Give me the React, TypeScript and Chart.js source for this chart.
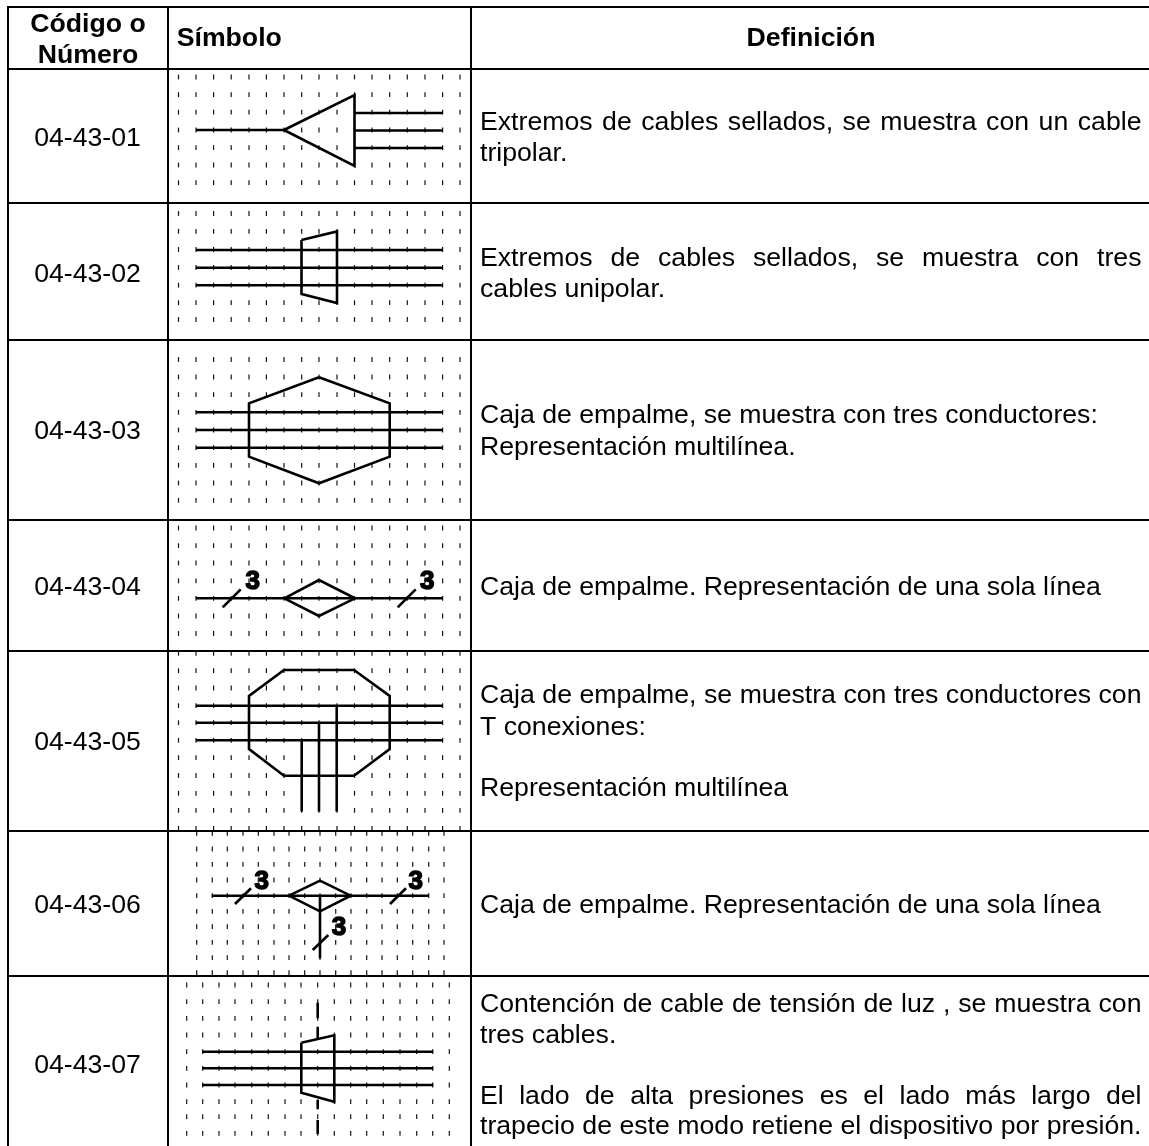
import React, { useEffect, useRef } from "react";
import { Chart, registerables } from "chart.js";

Chart.register(...registerables);

const WIDTH = 1149;
const HEIGHT = 1146;
const FONT = '"Liberation Sans", Arial, sans-serif';

// Table rules
const columnRules: number[] = [8, 168, 471];
const rowRules: number[] = [7, 69, 203, 340, 520, 651, 831, 976];
const ruleBottom = 1146;

// Text
const headerTexts: [string, number, number, string][] = [
  ["Código o", 88, 31.5, "center"],
  ["Número", 88, 62.5, "center"],
  ["Símbolo", 176.7, 46, "left"],
  ["Definición", 811, 46, "center"],
];
const codes: string[] = ["04-43-01", "04-43-02", "04-43-03", "04-43-04", "04-43-05", "04-43-06", "04-43-07"];
const codeBaselines: number[] = [146, 281.7, 439, 595, 750, 912.7, 1072.7];
const definitionLines: [string, number, boolean][] = [
  ["Extremos de cables sellados, se muestra con un cable", 130, true],
  ["tripolar.", 160.7, false],
  ["Extremos de cables sellados, se muestra con tres", 265.7, true],
  ["cables unipolar.", 296.7, false],
  ["Caja de empalme, se muestra con tres conductores:", 423, false],
  ["Representación multilínea.", 454.7, false],
  ["Caja de empalme. Representación de una sola línea", 595, false],
  ["Caja de empalme, se muestra con tres conductores con", 703.3, true],
  ["T conexiones:", 735, false],
  ["Representación multilínea", 796, false],
  ["Caja de empalme. Representación de una sola línea", 912.7, false],
  ["Contención de cable de tensión de luz , se muestra con", 1011.5, true],
  ["tres cables.", 1043, false],
  ["El lado de alta presiones es el lado más largo del", 1103.5, true],
  ["trapecio de este modo retiene el dispositivo por presión.", 1134, true],
];
const threeLabels: [number, number][] = [
  [252.7, 581], [427.3, 581], [261.7, 881], [415.7, 881], [339, 927],
];

// Dot grids of the symbol cells
const gridXA: number[] = [178.5, 196, 213.6, 231.2, 249, 266.4, 284, 301.7, 319, 337, 354.5, 372, 389.7, 407.3, 425, 442.6, 460];
const gridXB: number[] = [196.7, 212.3, 227.3, 243, 258.3, 274, 289, 304.7, 320, 335.7, 351, 366.7, 382, 397.3, 412.7, 428.7, 444];
const gridXC: number[] = [186.7, 202.7, 219, 235, 251.7, 268.3, 285, 301, 317.7, 334.3, 350.7, 366.7, 383.3, 400, 416.7, 432.7, 449.3];
const gridY1: number[] = [77, 94.6, 112.2, 130, 147.6, 165, 182.7];
const gridY2: number[] = [213.5, 231.3, 249.5, 267.5, 285.2, 302.7, 319.5];
const gridY3: number[] = [359.5, 377, 394.6, 412.3, 430, 447.7, 465.3, 483, 500.3];
const gridY4: number[] = [528, 545.7, 563, 580.8, 598.3, 616, 633.5];
const gridY5: number[] = [653.3, 670.7, 688, 705.7, 722.7, 740.3, 757.7, 775.5, 793.3, 810.3, 828.3];
const gridY6: number[] = [833.3, 849, 864.3, 880, 895.7, 911.3, 926.7, 942.3, 957.7, 972.7];
const gridY7: number[] = [985, 1001.7, 1018.3, 1035, 1051.7, 1068.3, 1085, 1101.7, 1116.7, 1133.3];

type Poly = [number, number][];

// Symbols
const symbol1: Poly[] = [
  [[196, 130], [284, 130]],
  [[284, 130], [354.5, 95], [354.5, 166], [284, 130]],
  [[355, 113], [443, 113]],
  [[355, 130.5], [443, 130.5]],
  [[355, 148], [443, 148]],
];
const symbol2: Poly[] = [
  [[196, 250], [443, 250]],
  [[196, 267.7], [443, 267.7]],
  [[196, 285.3], [443, 285.3]],
  [[301.5, 240], [337, 231.5], [337, 303], [301.5, 294], [301.5, 240]],
];
const symbol3: Poly[] = [
  [[196, 412.3], [443, 412.3]],
  [[196, 430], [443, 430]],
  [[196, 447.7], [443, 447.7]],
  [[319, 377.3], [389.7, 403.3], [389.7, 456.7], [319, 483.3], [249, 456.7], [249, 403.3], [319, 377.3]],
];
const symbol4: Poly[] = [
  [[196, 598.3], [443, 598.3]],
  [[284.3, 598.3], [319, 580], [355, 598.3], [319, 616], [284.3, 598.3]],
  [[222.7, 607.3], [240.7, 589.3]],
  [[397.7, 607.3], [415.7, 589.3]],
];
const symbol5: Poly[] = [
  [[196, 705.7], [443, 705.7]],
  [[196, 722.7], [443, 722.7]],
  [[196, 740.3], [443, 740.3]],
  [[284, 670], [354, 670], [389.7, 696], [389.7, 749], [354, 775.7], [284, 775.7], [249, 749], [249, 696], [284, 670]],
  [[301.7, 740.3], [301.7, 811.5]],
  [[319, 722.7], [319, 811.5]],
  [[336.7, 705.7], [336.7, 811.5]],
];
const symbol6: Poly[] = [
  [[211.7, 895.7], [429, 895.7]],
  [[289, 895.7], [320, 880.7], [350.7, 895.7], [320, 911.3], [289, 895.7]],
  [[320, 895.7], [320, 958.3]],
  [[235, 904], [251, 888.3]],
  [[390, 904], [406, 888.3]],
  [[312.7, 950], [328.3, 935]],
];
const symbol7: Poly[] = [
  [[202.3, 1051.7], [433.3, 1051.7]],
  [[202.3, 1068.3], [433.3, 1068.3]],
  [[202.3, 1085], [433.3, 1085]],
  [[301.3, 1042.7], [334.3, 1035.3], [334.3, 1101.7], [301.3, 1092.7], [301.3, 1042.7]],
  [[317.7, 1002.7], [317.7, 1018.3]],
  [[317.7, 1026.7], [317.7, 1038]],
  [[317.7, 1100], [317.7, 1109.3]],
  [[317.7, 1120], [317.7, 1134]],
];

const dotGrids: [number[], number[]][] = [
  [gridXA, gridY1], [gridXA, gridY2], [gridXA, gridY3], [gridXA, gridY4], [gridXA, gridY5],
  [gridXB, gridY6], [gridXC, gridY7],
];

const textPlugin = {
  id: "tableText",
  afterDatasetsDraw(chart: any) {
    const { ctx, scales } = chart;
    const px = (v: number) => scales.x.getPixelForValue(v);
    const py = (v: number) => scales.y.getPixelForValue(v);
    ctx.save();
    ctx.fillStyle = "#000";
    ctx.strokeStyle = "#000";
    ctx.textBaseline = "alphabetic";
    ctx.font = `bold 26.67px ${FONT}`;
    headerTexts.forEach(([t, x, y, a]) => {
      ctx.textAlign = a;
      ctx.fillText(t, px(x), py(y));
    });
    ctx.font = `26.67px ${FONT}`;
    ctx.textAlign = "center";
    codes.forEach((t, i) => ctx.fillText(t, px(87.5), py(codeBaselines[i])));
    ctx.textAlign = "left";
    const left = 480;
    const right = 1141.5;
    definitionLines.forEach(([t, y, justify]) => {
      const spaces = t.split(" ").length - 1;
      ctx.wordSpacing = "0px";
      const natural = ctx.measureText(t).width;
      ctx.wordSpacing = justify ? `${(right - left - natural) / spaces}px` : "0px";
      ctx.fillText(t, px(left), py(y));
    });
    ctx.wordSpacing = "0px";
    ctx.font = `bold 26px ${FONT}`;
    ctx.textAlign = "center";
    ctx.textBaseline = "middle";
    ctx.lineWidth = 1.5;
    threeLabels.forEach(([x, y]) => {
      ctx.strokeText("3", px(x), py(y) + 1);
      ctx.fillText("3", px(x), py(y) + 1);
    });
    ctx.restore();
  },
};

function lineDataset(poly: Poly, width: number) {
  return {
    data: poly.map(([x, y]) => ({ x, y })),
    showLine: true,
    borderColor: "#000",
    borderWidth: width,
    borderCapStyle: "butt",
    borderJoinStyle: "miter",
    tension: 0,
    pointRadius: 0,
    fill: false,
  };
}

export default function App() {
  const ref = useRef<HTMLCanvasElement>(null);
  useEffect(() => {
    if (!ref.current) return;
    const rules: Poly[] = [
      ...columnRules.map((x): Poly => [[x, rowRules[0] - 1], [x, ruleBottom]]),
      ...rowRules.map((y): Poly => [[columnRules[0] - 1, y], [WIDTH, y]]),
    ];
    const symbols = [symbol1, symbol2, symbol3, symbol4, symbol5, symbol6, symbol7].flat();
    const dots = dotGrids.map(([xs, ys]) => ({
      data: ys.flatMap((y) => xs.map((x) => ({ x, y }))),
      showLine: false,
      pointStyle: "line",
      rotation: 90,
      pointRadius: 2.4,
      pointBorderWidth: 1.2,
      pointBorderColor: "#111",
      pointBackgroundColor: "#111",
    }));
    const chart = new Chart(ref.current, {
      type: "scatter",
      data: {
        datasets: [
          ...rules.map((r) => lineDataset(r, 2)),
          ...symbols.map((s) => lineDataset(s, 2.6)),
          ...dots,
        ] as any,
      },
      options: {
        responsive: false,
        animation: false,
        layout: { padding: 0, autoPadding: false },
        events: [],
        plugins: { legend: { display: false }, tooltip: { enabled: false }, title: { display: false } },
        scales: {
          x: { type: "linear", min: 0, max: WIDTH, display: false },
          y: { type: "linear", min: 0, max: HEIGHT, reverse: true, display: false },
        },
      } as any,
      plugins: [textPlugin],
    });
    return () => chart.destroy();
  }, []);
  return (
    <canvas
      ref={ref}
      width={WIDTH}
      height={HEIGHT}
      style={{ position: "absolute", left: 0, top: 0, width: WIDTH, height: HEIGHT, background: "#fff" }}
    />
  );
}
